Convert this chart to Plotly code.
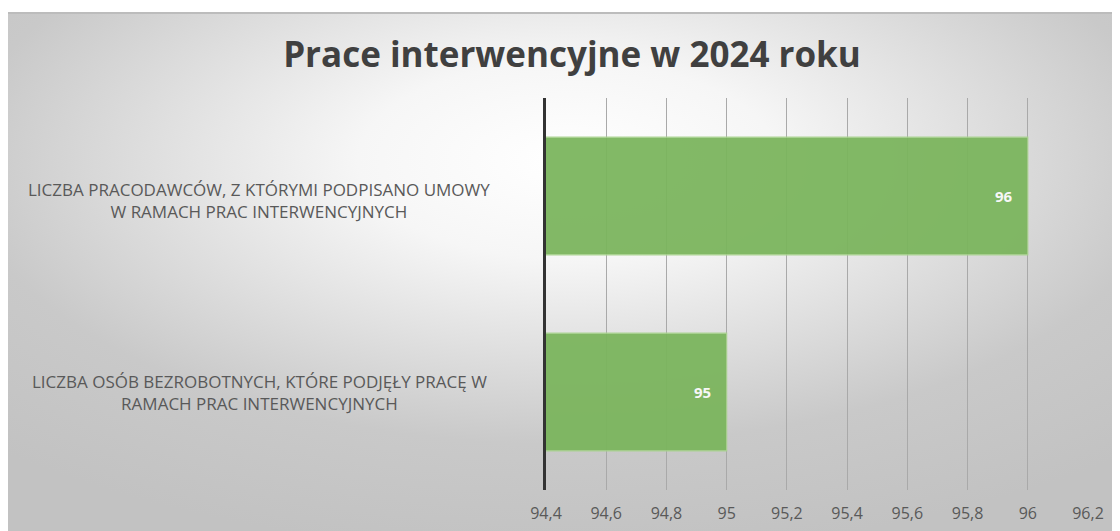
import base64
import plotly.graph_objects as go

TITLE = "Prace interwencyjne w 2024 roku"
categories = [
    "LICZBA OSÓB BEZROBOTNYCH, KTÓRE PODJĘŁY PRACĘ W<br>RAMACH PRAC INTERWENCYJNYCH",
    "LICZBA PRACODAWCÓW, Z KTÓRYMI PODPISANO UMOWY<br>W RAMACH PRAC INTERWENCYJNYCH",
]
values = [95, 96]
tick_vals = [94.4, 94.6, 94.8, 95, 95.2, 95.4, 95.6, 95.8, 96, 96.2]

GREEN = "#7bb55d"
TEXT = "#595959"

# plot area in figure pixels
L, R, T, B = 538, 40, 90, 49
PW, PH = 1120 - L - R, 531 - T - B

svg = """<svg xmlns='http://www.w3.org/2000/svg' width='1120' height='526' preserveAspectRatio='none'>
<defs><radialGradient id='g' cx='50%' cy='28%' r='75%'>
<stop offset='0%' stop-color='#ffffff'/><stop offset='25%' stop-color='#f6f6f6'/>
<stop offset='72%' stop-color='#c9c9c9'/><stop offset='100%' stop-color='#c2c2c2'/>
</radialGradient></defs>
<rect width='1120' height='526' fill='url(#g)'/></svg>"""
bg = "data:image/svg+xml;base64," + base64.b64encode(svg.encode()).decode()

fig = go.Figure(go.Bar(
    x=values, y=categories, orientation="h", width=0.6,
    marker=dict(color=GREEN, opacity=0.94, line=dict(color="#a9d38f", width=1.2)),
    hoverinfo="skip",
))

# value labels inside bar ends
for cat, v in zip(categories, values):
    fig.add_annotation(x=v, y=cat, text=f"<b>{v}</b>", showarrow=False, xanchor="center",
                       xshift=-24, font=dict(size=15, color="#f7f7f7", family="Open Sans"))

# category labels, centred lines left of the axis
for cat, dy in zip(categories, [0, -4]):
    fig.add_annotation(
        x=0, xref="paper", xshift=-287, y=cat, yref="y", yshift=dy,
        text=cat, showarrow=False, xanchor="center", align="center",
        font=dict(size=17, color=TEXT, family="Open Sans"),
    )

fig.update_layout(
    width=1120, height=531,
    margin=dict(l=L, r=R, t=T, b=B),
    paper_bgcolor="white", plot_bgcolor="rgba(0,0,0,0)",
    separators=", ",
    showlegend=False,
    title=dict(text=TITLE, x=564 / 1120, xanchor="center", y=1 - 47 / 531, yanchor="middle",
               font=dict(size=35, color="#404040", family="Open Sans", weight="bold")),
    images=[dict(source=bg, xref="paper", yref="paper", x=-L / PW, y=1 + (T - 5) / PH,
                 sizex=1120 / PW, sizey=526 / PH, xanchor="left", yanchor="top",
                 sizing="stretch", layer="below")],
    xaxis=dict(range=[94.4, 96.2], tickvals=tick_vals, showgrid=True,
               gridcolor="#a9a9a9", gridwidth=1.4, zeroline=False, showline=False,
               tickfont=dict(size=16, color=TEXT, family="Open Sans"),
               ticks="outside", ticklen=9, tickcolor="rgba(0,0,0,0)"),
    yaxis=dict(showticklabels=False, showline=True, linecolor="#333333", linewidth=3,
               showgrid=False, fixedrange=True),
)
fig.add_shape(type="line", xref="paper", yref="paper", x0=-L / PW, x1=1 + R / PW,
              y0=1 + (T - 5) / PH, y1=1 + (T - 5) / PH, line=dict(color="#bcbcbc", width=2))

fig.write_html("out.html")
